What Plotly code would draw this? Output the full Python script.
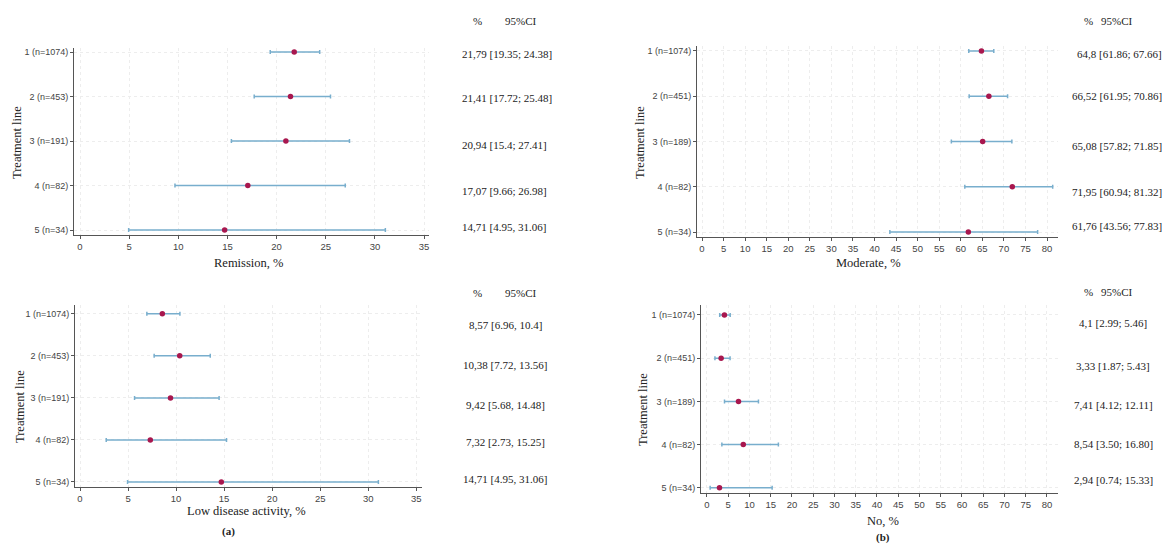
import plotly.graph_objects as go

W, H = 1165, 544

# ---------------- data ----------------
labels_a = ["1 (n=1074)", "2 (n=453)", "3 (n=191)", "4 (n=82)", "5 (n=34)"]
labels_b = ["1 (n=1074)", "2 (n=451)", "3 (n=189)", "4 (n=82)", "5 (n=34)"]
lines = [1, 2, 3, 4, 5]

rem_val = [21.79, 21.41, 20.94, 17.07, 14.71]
rem_lo = [19.35, 17.72, 15.4, 9.66, 4.95]
rem_hi = [24.38, 25.48, 27.41, 26.98, 31.06]
rem_txt = ["21,79 [19.35; 24.38]", "21,41 [17.72; 25.48]", "20,94 [15.4; 27.41]",
           "17,07 [9.66; 26.98]", "14,71 [4.95, 31.06]"]

mod_val = [64.8, 66.52, 65.08, 71.95, 61.76]
mod_lo = [61.86, 61.95, 57.82, 60.94, 43.56]
mod_hi = [67.66, 70.86, 71.85, 81.32, 77.83]
mod_txt = ["64,8 [61.86; 67.66]", "66,52 [61.95; 70.86]", "65,08 [57.82; 71.85]",
           "71,95 [60.94; 81.32]", "61,76 [43.56; 77.83]"]

low_val = [8.57, 10.38, 9.42, 7.32, 14.71]
low_lo = [6.96, 7.72, 5.68, 2.73, 4.95]
low_hi = [10.4, 13.56, 14.48, 15.25, 31.06]
low_txt = ["8,57 [6.96, 10.4]", "10,38 [7.72, 13.56]", "9,42 [5.68, 14.48]",
           "7,32 [2.73, 15.25]", "14,71 [4.95, 31.06]"]

no_val = [4.1, 3.33, 7.41, 8.54, 2.94]
no_lo = [2.99, 1.87, 4.12, 3.50, 0.74]
no_hi = [5.46, 5.43, 12.11, 16.80, 15.33]
no_txt = ["4,1 [2.99; 5.46]", "3,33 [1.87; 5.43]", "7,41 [4.12; 12.11]",
          "8,54 [3.50; 16.80]", "2,94 [0.74; 15.33]"]

x_ticks_a = list(range(0, 36, 5))
x_ticks_b = list(range(0, 81, 5))

# ---------------- styling ----------------
MARK = "#a8174e"
BAR = "#78aecd"
GRID = "#ededed"
AXIS = "#555555"
SERIF = "Liberation Serif, Times New Roman, serif"
SANS = "Liberation Sans, Arial, sans-serif"


def px(x):
    return x / W


def py(y):
    return 1 - y / H


panels = [
    dict(v=rem_val, lo=rem_lo, hi=rem_hi, lab=labels_a, xd=(74, 429), yd=(48, 235),
         xr=(-0.61, 35.5), yr=(5.11, 0.91), xt=x_ticks_a),
    dict(v=mod_val, lo=mod_lo, hi=mod_hi, lab=labels_b, xd=(697, 1058), yd=(46, 237),
         xr=(-1.16, 82.55), yr=(5.11, 0.89), xt=x_ticks_b),
    dict(v=low_val, lo=low_lo, hi=low_hi, lab=labels_a, xd=(75, 422), yd=(305, 487),
         xr=(-0.52, 35.6), yr=(5.12, 0.79), xt=x_ticks_a),
    dict(v=no_val, lo=no_lo, hi=no_hi, lab=labels_b, xd=(701, 1058), yd=(305, 493),
         xr=(-1.41, 82.6), yr=(5.12, 0.77), xt=x_ticks_b),
]

fig = go.Figure()
layout = {}
for i, p in enumerate(panels, start=1):
    xa = "x" if i == 1 else f"x{i}"
    ya = "y" if i == 1 else f"y{i}"
    plus = [h - v for h, v in zip(p["hi"], p["v"])]
    minus = [v - l for v, l in zip(p["v"], p["lo"])]
    fig.add_trace(go.Scatter(
        x=p["v"], y=lines, mode="markers", xaxis=xa, yaxis=ya,
        marker=dict(color=MARK, size=5.5),
        error_x=dict(type="data", array=plus, arrayminus=minus, color=BAR,
                     thickness=1.5, width=2),
        showlegend=False))
    xkey = "xaxis" if i == 1 else f"xaxis{i}"
    ykey = "yaxis" if i == 1 else f"yaxis{i}"
    layout[xkey] = dict(
        domain=[px(p["xd"][0]), px(p["xd"][1])], range=list(p["xr"]),
        anchor=ya, tickvals=p["xt"], ticks="outside", ticklen=3, tickcolor=AXIS,
        showline=True, linecolor=AXIS, linewidth=1, zeroline=False,
        showgrid=True, gridcolor=GRID, griddash="dot", gridwidth=1,
        tickfont=dict(family=SANS, size=9.5, color="#444"))
    layout[ykey] = dict(
        domain=[py(p["yd"][1]), py(p["yd"][0])], range=list(p["yr"]),
        anchor=xa, tickvals=lines, ticktext=p["lab"], ticks="outside", ticklen=3,
        tickcolor=AXIS, showline=True, linecolor=AXIS, linewidth=1, zeroline=False,
        showgrid=True, gridcolor=GRID, griddash="dot", gridwidth=1,
        tickfont=dict(family=SANS, size=9, color="#444"))

anns = []


def add(text, x, y, size=11, xanchor="center", angle=0, bold=False):
    anns.append(dict(text=f"<b>{text}</b>" if bold else text, x=px(x), y=py(y),
                     xref="paper", yref="paper", showarrow=False, xanchor=xanchor,
                     yanchor="middle", textangle=angle,
                     font=dict(family=SERIF, size=size, color="#222")))


# axis titles
add("Remission, %", 248, 263, 12.5)
add("Moderate, %", 868, 263, 12.5)
add("Low disease activity, %", 247, 511, 12.5)
add("No, %", 883, 521, 12.5)
add("(a)", 229, 531, 11, bold=True)
add("(b)", 883, 537, 11, bold=True)
for (x, y) in [(17, 143), (640, 143), (20, 407), (643, 410)]:
    add("Treatment line", x, y, 12.5, angle=-90)

# column headers
for (xp, xc, y) in [(477, 521, 21), (1088, 1117, 21), (477, 521, 293), (1088, 1117, 292)]:
    add("%", xp, y, 11)
    add("95%CI", xc, y, 11)

# row texts
for t, y in zip(rem_txt, [54, 98, 145, 191, 227]):
    add(t, 460, y, 11, xanchor="left")
for t, y in zip(mod_txt, [54, 96, 146, 192, 226]):
    add(t, 1164, y, 11, xanchor="right")
for t, y in zip(low_txt, [325, 365, 405, 442, 479]):
    add(t, 505, y, 11)
for t, y in zip(no_txt, [323, 366, 405, 444, 480]):
    add(t, 1113, y, 11)

fig.update_layout(
    width=W, height=H, margin=dict(l=0, r=0, t=0, b=0),
    paper_bgcolor="white", plot_bgcolor="white",
    annotations=anns, showlegend=False, **layout)

fig.write_html("out.html")
